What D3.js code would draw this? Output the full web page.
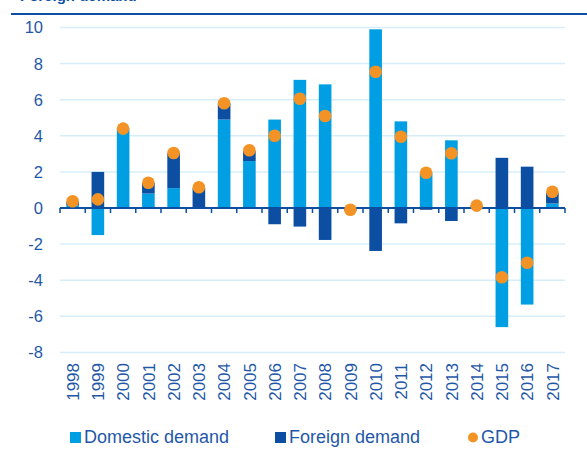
<!DOCTYPE html>
<html>
<head>
<meta charset="utf-8">
<script src="https://cdn.jsdelivr.net/npm/d3@7"></script>
<style>
  body { margin: 0; background: #fff; }
  svg { display: block; font-family: "Liberation Sans", Arial, sans-serif; }
</style>
</head>
<body>
<div id="chart"></div>
<script>
const years = ["1998","1999","2000","2001","2002","2003","2004","2005","2006","2007",
               "2008","2009","2010","2011","2012","2013","2014","2015","2016","2017"];
const domestic = [0.15, -1.5, 4.4, 0.8, 1.1, 0.05, 4.9, 2.6, 4.9, 7.1,
                  6.85, 0.05, 9.9, 4.8, 1.95, 3.75, 0.1, -6.6, -5.35, 0.25];
const foreign = [0.2, 2.0, 0, 0.6, 1.95, 1.05, 0.9, 0.55, -0.9, -1.03,
                 -1.77, -0.15, -2.38, -0.85, -0.1, -0.72, 0.03, 2.78, 2.29, 0.6];
const gdp = [0.37, 0.48, 4.4, 1.4, 3.05, 1.15, 5.8, 3.2, 4.0, 6.05,
             5.1, -0.1, 7.55, 3.95, 1.95, 3.03, 0.13, -3.84, -3.03, 0.9];
const yTicks = [-8, -6, -4, -2, 0, 2, 4, 6, 8, 10];

const W = 587, H = 450;
const cLight = "#009fe3", cDark = "#0b4ea2", cOrange = "#f39325";
const cText = "#1f58a8", cGrid = "#d6eef9";

const svg = d3.select("#chart").append("svg")
  .attr("width", W).attr("height", H);

// title, cut off at the top edge like in the source image
svg.append("text")
  .attr("x", 20).attr("y", 1)
  .style("font-size", "15px").style("font-weight", "bold")
  .style("fill", cDark)
  .text("Foreign demand");
svg.append("line")
  .attr("x1", 11).attr("x2", W).attr("y1", 14).attr("y2", 14)
  .attr("stroke", cDark).attr("stroke-width", 2);

const x = d3.scaleBand().domain(years).range([60, 565]).paddingInner(0.5).paddingOuter(0.25);
const y = d3.scaleLinear().domain([-8, 10]).range([352.4, 27.5]);

// gridlines
svg.selectAll("line.grid")
  .data(yTicks.filter(t => t !== 0))
  .enter().append("line")
    .attr("class", "grid")
    .attr("x1", 60).attr("x2", 565)
    .attr("y1", d => y(d)).attr("y2", d => y(d))
    .attr("stroke", cGrid).attr("stroke-width", 1.5);

// y labels
svg.selectAll("text.ylab")
  .data(yTicks)
  .enter().append("text")
    .attr("class", "ylab")
    .attr("x", 43).attr("y", d => y(d)).attr("dy", "0.36em")
    .attr("text-anchor", "end")
    .style("font-size", "16.5px").style("fill", cText)
    .text(d => d);

// stacked bars
const rows = years.map((yr, i) => ({ year: yr, domestic: domestic[i], foreign: foreign[i] }));
const series = d3.stack().keys(["domestic", "foreign"]).offset(d3.stackOffsetDiverging)(rows);
const colour = { domestic: cLight, foreign: cDark };

svg.selectAll("g.series")
  .data(series)
  .enter().append("g")
    .attr("class", "series")
    .attr("fill", d => colour[d.key])
  .selectAll("rect")
  .data(d => d)
  .enter().append("rect")
    .attr("x", d => x(d.data.year))
    .attr("width", x.bandwidth())
    .attr("y", d => y(Math.max(d[0], d[1])))
    .attr("height", d => Math.abs(y(d[0]) - y(d[1])));

// zero axis with ticks between categories
const edges = years.map(yr => x(yr) + x.bandwidth() / 2 - x.step() / 2)
  .concat([x(years[years.length - 1]) + x.bandwidth() / 2 + x.step() / 2]);
svg.append("line")
  .attr("x1", 60).attr("x2", 565).attr("y1", y(0)).attr("y2", y(0))
  .attr("stroke", cDark).attr("stroke-width", 2);
svg.selectAll("line.tick")
  .data(edges)
  .enter().append("line")
    .attr("class", "tick")
    .attr("x1", d => d).attr("x2", d => d)
    .attr("y1", y(0)).attr("y2", y(0) + 5)
    .attr("stroke", cDark).attr("stroke-width", 1.5);

// GDP dots
svg.selectAll("circle.gdp")
  .data(gdp)
  .enter().append("circle")
    .attr("class", "gdp")
    .attr("cx", (d, i) => x(years[i]) + x.bandwidth() / 2)
    .attr("cy", d => y(d))
    .attr("r", 6.3)
    .attr("fill", cOrange);

// x labels (rotated)
svg.selectAll("text.xlab")
  .data(years)
  .enter().append("text")
    .attr("class", "xlab")
    .attr("transform", d => "translate(" + (x(d) + x.bandwidth() / 2) + ",363) rotate(-90)")
    .attr("dy", "0.36em")
    .attr("text-anchor", "end")
    .style("font-size", "17px").style("fill", cText)
    .text(d => d);

// legend
const legend = [
  { label: "Domestic demand", color: cLight, shape: "rect", x: 70 },
  { label: "Foreign demand", color: cDark, shape: "rect", x: 275 },
  { label: "GDP", color: cOrange, shape: "circle", x: 468 }
];
const lg = svg.selectAll("g.legend")
  .data(legend)
  .enter().append("g")
    .attr("class", "legend")
    .attr("transform", d => "translate(" + d.x + ",0)");
lg.filter(d => d.shape === "rect").append("rect")
  .attr("x", 0).attr("y", 432).attr("width", 11).attr("height", 11)
  .attr("fill", d => d.color);
lg.filter(d => d.shape === "circle").append("circle")
  .attr("cx", 5).attr("cy", 437.5).attr("r", 5)
  .attr("fill", d => d.color);
lg.append("text")
  .attr("x", d => d.shape === "rect" ? 14 : 13).attr("y", 443)
  .style("font-size", "18px").style("fill", cText)
  .text(d => d.label);
</script>
</body>
</html>
